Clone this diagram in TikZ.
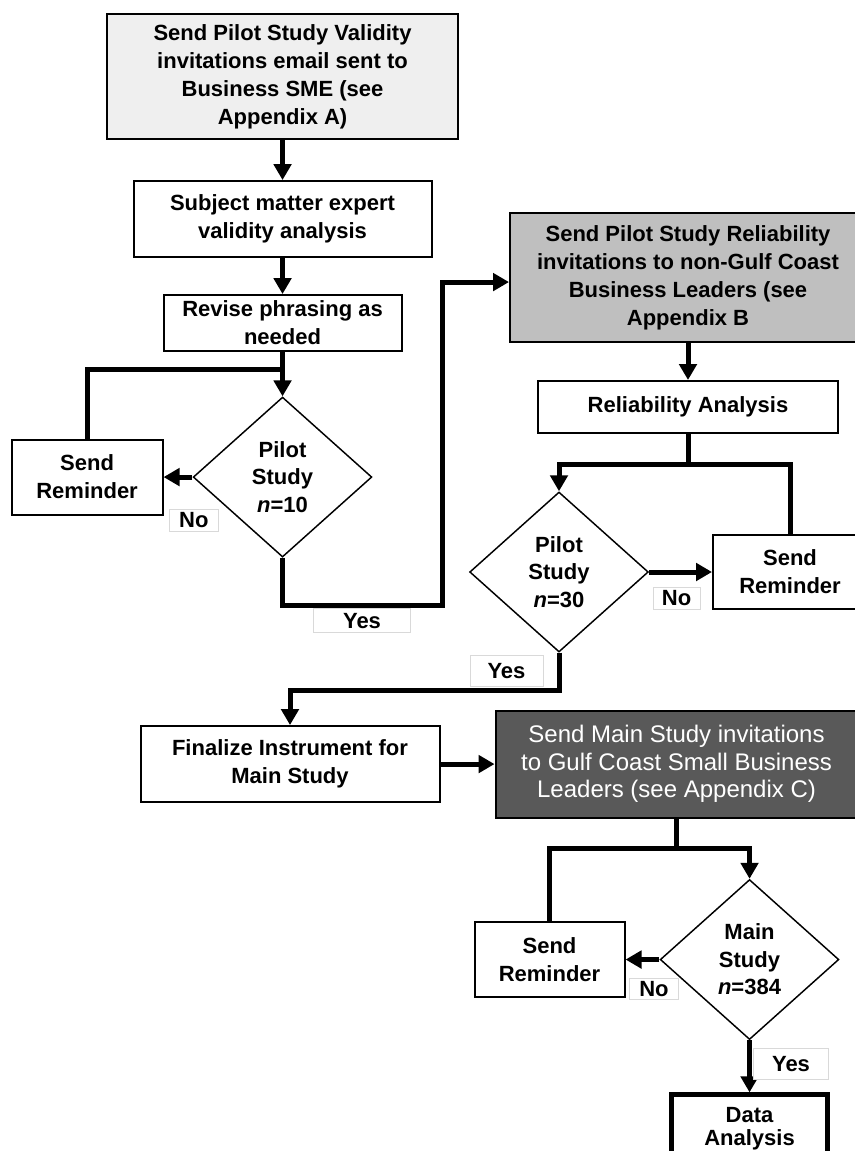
\documentclass[tikz,border=0pt]{standalone}
\usepackage{fontspec}
\setmainfont{Liberation Sans}
\usetikzlibrary{shapes.geometric,arrows.meta}
\definecolor{lightbox}{HTML}{EFEFEF}
\definecolor{midbox}{HTML}{BFBFBF}
\definecolor{darkbox}{HTML}{595959}
\begin{document}
\begin{tikzpicture}
  \tikzstyle{box} = [rectangle, draw=black, line width=1.5pt, fill=white, align=center, inner sep=2pt, font=\fontsize{16.5}{21}\selectfont\bfseries]
  \tikzstyle{decision} = [diamond, draw=black, line width=1.1pt, fill=white, align=center, inner sep=0pt, minimum width=134pt, minimum height=120pt, font=\fontsize{16.5}{20.6}\selectfont\bfseries]
  \tikzstyle{lbl} = [rectangle, draw=black!15, line width=0.6pt, fill=white, inner sep=1pt, font=\fontsize{16.5}{20}\selectfont\bfseries]
  \tikzstyle{arrow} = [line width=3.75pt, -{Triangle[length=12pt,width=13pt]}]
  \tikzstyle{line} = [line width=3.75pt]

  \useasboundingbox (0,0) rectangle (640.5pt,-863.25pt);

  \node (invite) [box, fill=lightbox, minimum width=263.25pt, minimum height=93.75pt] at (211.9pt,-57.4pt) {Send Pilot Study Validity\\invitations email sent to\\Business SME (see\\Appendix A)};
  \node (sme) [box, below of=invite, node distance=106.9pt, minimum width=223.5pt, minimum height=57pt] {Subject matter expert\\validity analysis};
  \draw [arrow] (invite) -- (sme);
  \node (revise) [box, below of=sme, node distance=78pt, minimum width=178.5pt, minimum height=42pt] {Revise phrasing as\\needed};
  \draw [arrow] (sme) -- (revise);
  \node (pilot1) [decision, below of=revise, node distance=115.5pt] {Pilot\\Study\\\textit{n}=10};
  \coordinate (j1) at ([yshift=-12.75pt]revise.south);
  \draw [arrow] (revise) -- (pilot1);
  \node (remind1) [box, left of=pilot1, node distance=146.6pt, minimum width=113.25pt, minimum height=56.25pt] {Send\\Reminder};
  \draw [arrow] (pilot1) -- (remind1);
  \draw [line] (remind1) |- (j1);
  \node (no1) [lbl, minimum width=36.75pt, minimum height=16.5pt] at ([xshift=1pt,yshift=-32.25pt]pilot1.west) {No};

  \node (relinv) [box, fill=midbox, right of=invite, node distance=304.1pt, yshift=-150.75pt, minimum width=267pt, minimum height=96.75pt] {Send Pilot Study Reliability\\invitations to non-Gulf Coast\\Business Leaders (see\\Appendix B};
  \draw [arrow] (pilot1.south) -- ++(0,-36pt) -| ([xshift=-50.25pt,yshift=-3.4pt]relinv.west) -- ([yshift=-3.4pt]relinv.west);
  \node (yes1) [lbl, minimum width=72.75pt, minimum height=18pt] at ([xshift=59.6pt,yshift=-47.25pt]pilot1.south) {Yes};
  \node (relan) [box, below of=relinv, node distance=97.1pt, minimum width=225pt, minimum height=39pt] {Reliability Analysis};
  \draw [arrow] (relinv) -- (relan);
  \coordinate (j2) at ([yshift=-22.5pt]relan.south);
  \node (pilot2) [decision, below of=relan, node distance=123.75pt, xshift=-96.75pt] {Pilot\\Study\\\textit{n}=30};
  \draw [arrow] (relan) -- (j2) -| (pilot2);
  \node (remind2) [box, right of=pilot2, node distance=173.25pt, minimum width=115.5pt, minimum height=55.5pt] {Send\\Reminder};
  \draw [arrow] (pilot2) -- (remind2);
  \draw [line] (remind2) |- (j2);
  \node (no2) [lbl, minimum width=35.25pt, minimum height=16.5pt] at ([xshift=20.6pt,yshift=-19.5pt]pilot2.east) {No};

  \node (final) [box, below of=pilot1, node distance=215.25pt, xshift=5.6pt, minimum width=224.25pt, minimum height=57pt] {Finalize Instrument for\\Main Study};
  \draw [arrow] (pilot2.south) -- ++(0,-28.5pt) -| (final);
  \node (yes2) [lbl, minimum width=54.75pt, minimum height=23.25pt] at ([xshift=-39.4pt,yshift=-13.9pt]pilot2.south) {Yes};
  \node (maininv) [box, fill=darkbox, text=white, font=\fontsize{18}{20.6}\selectfont, right of=final, node distance=289.9pt, minimum width=271.5pt, minimum height=80.25pt] {Send Main Study invitations\\to Gulf Coast Small Business\\Leaders (see Appendix C)};
  \draw [arrow] (final) -- (maininv);
  \coordinate (j3) at ([yshift=-22.5pt]maininv.south);
  \node (mainst) [decision, below of=maininv, node distance=146.6pt, xshift=54.75pt] {Main\\Study\\\textit{n}=384};
  \draw [arrow] (maininv) -- (j3) -| (mainst);
  \node (remind3) [box, left of=mainst, node distance=150pt, minimum width=112.5pt, minimum height=56.25pt] {Send\\Reminder};
  \draw [arrow] (mainst) -- (remind3);
  \draw [line] (remind3) |- (j3);
  \node (no3) [lbl, minimum width=36.75pt, minimum height=15.75pt] at ([xshift=-4.1pt,yshift=-22.1pt]mainst.west) {No};
  \node (data) [box, line width=3.75pt, font=\fontsize{16.5}{17.5}\selectfont\bfseries, below of=mainst, node distance=127pt, minimum width=117pt, minimum height=51pt] {Data\\Analysis};
  \draw [arrow] (mainst) -- (data);
  \node (yes3) [lbl, minimum width=56.25pt, minimum height=23.25pt] at ([xshift=31.1pt,yshift=-17.6pt]mainst.south) {Yes};
\end{tikzpicture}
\end{document}
